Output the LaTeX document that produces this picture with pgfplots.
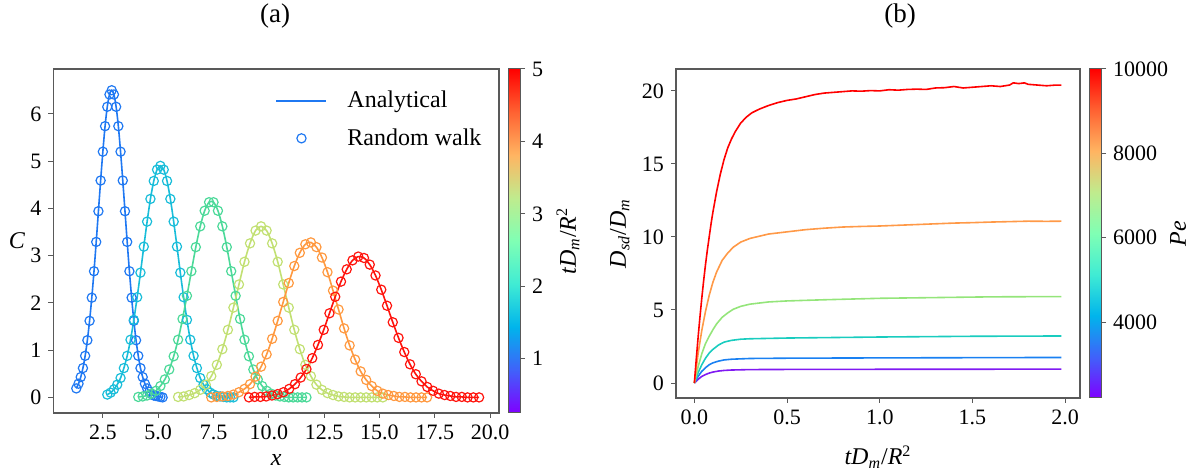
\documentclass[border=0pt]{standalone}
\usepackage{fontspec}
\setmainfont{Liberation Serif}
\usepackage{pgfplots}
\pgfplotsset{compat=1.18}
\usepackage{pgfplotstable}

\definecolor{ca}{rgb}{0.12,0.47,0.95}
\definecolor{cb}{rgb}{0.10,0.74,0.85}
\definecolor{cc}{rgb}{0.30,0.85,0.60}
\definecolor{cd}{rgb}{0.76,0.88,0.45}
\definecolor{ce}{rgb}{1.00,0.60,0.25}
\definecolor{cf}{rgb}{1.00,0.08,0.05}
\definecolor{pa}{rgb}{0.50,0.10,0.95}
\definecolor{pb}{rgb}{0.10,0.50,0.95}
\definecolor{pc}{rgb}{0.10,0.80,0.75}
\definecolor{pd}{rgb}{0.58,0.90,0.48}
\definecolor{pe}{rgb}{1.00,0.60,0.28}
\definecolor{pf}{rgb}{1.00,0.00,0.00}
\definecolor{axc}{rgb}{0.35,0.35,0.35}

\pgfplotsset{colormap={mplrainbow}{rgb=(0.5,0,1) rgb=(0.25,0.383,0.981) rgb=(0,0.707,0.924) rgb=(0.25,0.924,0.831) rgb=(0.5,1,0.707) rgb=(0.75,0.924,0.556) rgb=(1,0.707,0.383) rgb=(1,0.383,0.195) rgb=(1,0,0)}}

\pgfplotstableread{
x y
1.3 0.19
1.4 0.29
1.5 0.43
1.6 0.62
1.7 0.88
1.8 1.21
1.9 1.62
2.0 2.11
2.1 2.67
2.2 3.29
2.3 3.94
2.4 4.59
2.5 5.20
2.6 5.74
2.7 6.15
2.8 6.41
2.9 6.50
3.0 6.41
3.1 6.15
3.2 5.74
3.3 5.20
3.4 4.59
3.5 3.94
3.6 3.29
3.7 2.67
3.8 2.11
3.9 1.62
4.0 1.21
4.1 0.88
4.2 0.62
4.3 0.43
4.4 0.29
4.5 0.19
4.6 0.12
4.7 0.07
4.8 0.04
4.9 0.03
5.0 0.02
5.1 0.01
5.2 0.00
}\tA
\pgfplotstableread{
x y
2.70 0.06
2.85 0.10
3.00 0.17
3.15 0.27
3.30 0.41
3.45 0.62
3.60 0.88
3.75 1.22
3.90 1.64
4.05 2.12
4.20 2.64
4.35 3.19
4.50 3.72
4.65 4.20
4.80 4.58
4.95 4.82
5.10 4.90
5.25 4.82
5.40 4.58
5.55 4.20
5.70 3.72
5.85 3.19
6.00 2.64
6.15 2.12
6.30 1.64
6.45 1.22
6.60 0.88
6.75 0.62
6.90 0.41
7.05 0.27
7.20 0.17
7.35 0.10
7.50 0.06
7.65 0.03
7.80 0.02
7.95 0.01
8.10 0.00
8.25 0.00
8.40 0.00
}\tB
\pgfplotstableread{
x y
4.1 0.01
4.3 0.02
4.5 0.04
4.7 0.08
4.9 0.14
5.1 0.24
5.3 0.38
5.5 0.59
5.7 0.87
5.9 1.22
6.1 1.66
6.3 2.15
6.5 2.67
6.7 3.18
6.9 3.62
7.1 3.95
7.3 4.13
7.5 4.13
7.7 3.95
7.9 3.62
8.1 3.18
8.3 2.67
8.5 2.15
8.7 1.66
8.9 1.22
9.1 0.87
9.3 0.59
9.5 0.38
9.7 0.24
9.9 0.14
10.1 0.08
10.3 0.04
10.5 0.02
10.7 0.01
10.9 0.00
11.1 0.00
11.3 0.00
11.5 0.00
11.7 0.00
}\tC
\pgfplotstableread{
x y
5.90 0.01
6.15 0.02
6.40 0.05
6.65 0.09
6.90 0.16
7.15 0.27
7.40 0.45
7.65 0.69
7.90 1.02
8.15 1.43
8.40 1.90
8.65 2.39
8.90 2.87
9.15 3.26
9.40 3.53
9.65 3.62
9.90 3.53
10.15 3.26
10.40 2.87
10.65 2.39
10.90 1.90
11.15 1.43
11.40 1.02
11.65 0.69
11.90 0.45
12.15 0.27
12.40 0.16
12.65 0.09
12.90 0.05
13.15 0.02
13.40 0.01
13.65 0.00
13.90 0.00
14.15 0.00
14.40 0.00
14.65 0.00
14.90 0.00
15.15 0.00
}\tD
\pgfplotstableread{
x y
7.40 0.00
7.65 0.01
7.90 0.02
8.15 0.03
8.40 0.06
8.65 0.11
8.90 0.18
9.15 0.28
9.40 0.44
9.65 0.65
9.90 0.91
10.15 1.24
10.40 1.62
10.65 2.02
10.90 2.42
11.15 2.78
11.40 3.06
11.65 3.24
11.90 3.28
12.15 3.18
12.40 2.96
12.65 2.65
12.90 2.26
13.15 1.86
13.40 1.46
13.65 1.10
13.90 0.80
14.15 0.55
14.40 0.37
14.65 0.24
14.90 0.14
15.15 0.08
15.40 0.05
15.65 0.03
15.90 0.01
16.15 0.01
16.40 0.00
16.65 0.00
16.90 0.00
17.15 0.00
}\tE
\pgfplotstableread{
x y
9.10 0.00
9.36 0.01
9.62 0.01
9.88 0.02
10.14 0.04
10.40 0.07
10.66 0.11
10.92 0.18
11.18 0.28
11.44 0.42
11.70 0.60
11.96 0.83
12.22 1.11
12.48 1.43
12.74 1.78
13.00 2.13
13.26 2.45
13.52 2.71
13.78 2.90
14.04 2.98
14.30 2.95
14.56 2.81
14.82 2.58
15.08 2.28
15.34 1.94
15.60 1.59
15.86 1.26
16.12 0.96
16.38 0.70
16.64 0.49
16.90 0.34
17.16 0.22
17.42 0.14
17.68 0.08
17.94 0.05
18.20 0.03
18.46 0.01
18.72 0.01
18.98 0.00
19.24 0.00
19.50 0.00
}\tF

\pgfplotsset{
  myax/.style={
    scale only axis,
    axis line style={axc, line width=0.6pt},
    tick align=outside, tick pos=left,
    major tick length=2.5pt,
    every tick/.style={axc, line width=0.5pt},
    /pgf/number format/assume math mode=true,
    tick label style={font=\fontsize{11}{13}\selectfont},
    label style={font=\fontsize{12}{14}\selectfont},
  },
  mycb/.style={
    at={(parent axis.north east)}, anchor=north west, xshift=-4.0pt,
    width=6pt,
    axis line style={axc, line width=0.5pt},
    ytick pos=right, yticklabel pos=right,
    tick align=outside, major tick length=2.5pt,
    every tick/.style={axc, line width=0.5pt},
    /pgf/number format/assume math mode=true,
    /pgf/number format/1000 sep={},
    scaled y ticks=false,
    tick label style={font=\fontsize{11}{13}\selectfont},
  },
  myline/.style={line width=0.8pt},
  mymark/.style={only marks, mark=o, mark size=2.3pt, mark options={line width=0.6pt}},
}

\begin{document}
\begin{tikzpicture}
\useasboundingbox (0,0) rectangle (598.5pt,237pt);

% ---------------- panel (a) ----------------
\begin{axis}[myax,
  at={(26.75pt,30.5pt)}, anchor=south west,
  width=222.75pt, height=172pt,
  xmin=0.27, xmax=20.4, ymin=-0.33, ymax=6.95,
  xtick={2.5,5,7.5,10,12.5,15,17.5,20},
  xticklabel style={/pgf/number format/.cd, fixed, fixed zerofill, precision=1},
  ytick={0,1,2,3,4,5,6},
  xlabel={\textit{x}},
  ylabel={\textit{C}},
  xlabel style={at={(axis description cs:0.5,-0.137)}, anchor=center},
  ylabel style={at={(axis description cs:-0.082,0.5)}, anchor=center, rotate=-90},
  colorbar, colormap name=mplrainbow,
  point meta min=0.25, point meta max=5,
  colorbar style={mycb, height=172pt, ytick={1,2,3,4,5}},
  legend style={at={(0.975,0.955)}, anchor=north east, draw=none, fill=none,
    font=\fontsize{12}{14}\selectfont, row sep=5pt, inner sep=1pt},
  legend cell align=left,
]
\addlegendimage{ca, line width=1pt, legend image code/.code={\draw (0pt,0pt) -- (25pt,0pt); \path (33pt,0pt);}}
\addlegendentry{Analytical}
\addlegendimage{ca, mymark, legend image code/.code={\draw[only marks] plot coordinates {(12.5pt,0pt)}; \path (0pt,0pt) (33pt,0pt);}}
\addlegendentry{Random walk}

\addplot[ca, myline, smooth, forget plot] table {\tA};
\addplot[ca, mymark, forget plot] table {\tA};
\addplot[cb, myline, smooth, forget plot] table {\tB};
\addplot[cb, mymark, forget plot] table {\tB};
\addplot[cc, myline, smooth, forget plot] table {\tC};
\addplot[cc, mymark, forget plot] table {\tC};
\addplot[cd, myline, smooth, forget plot] table {\tD};
\addplot[cd, mymark, forget plot] table {\tD};
\addplot[ce, myline, smooth, forget plot] table {\tE};
\addplot[ce, mymark, forget plot] table {\tE};
\addplot[cf, myline, smooth, forget plot] table {\tF};
\addplot[cf, mymark, forget plot] table {\tF};

\node[anchor=south west, inner sep=1pt, font=\fontsize{11}{13}\selectfont] at (rel axis cs:0,1) {×10\textsuperscript{−1}};
\end{axis}

% ---------------- panel (b) ----------------
\begin{axis}[myax,
  at={(338pt,38pt)}, anchor=south west,
  width=202pt, height=164.5pt,
  xmin=-0.099, xmax=2.08, ymin=-1.025, ymax=21.5,
  xtick={0,0.5,1,1.5,2},
  xticklabel style={/pgf/number format/.cd, fixed, fixed zerofill, precision=1},
  ytick={0,5,10,15,20},
  xlabel={\textit{tD}\textsubscript{\textit{m}}/\textit{R}\textsuperscript{2}},
  ylabel={\textit{D}\textsubscript{\textit{sd}}/\textit{D}\textsubscript{\textit{m}}},
  xlabel style={at={(axis description cs:0.5,-0.179)}, anchor=center},
  ylabel style={at={(axis description cs:-0.139,0.5)}, anchor=center},
  colorbar, colormap name=mplrainbow,
  point meta min=2200, point meta max=10000,
  colorbar style={mycb, height=164.5pt, ytick={4000,6000,8000,10000}},
]
\addplot[pa, myline] coordinates {(0,0) (0.02,0.25) (0.04,0.45) (0.06,0.58) (0.08,0.68) (0.10,0.75) (0.13,0.82) (0.16,0.86) (0.2,0.89) (0.3,0.92) (0.5,0.93) (1.0,0.94) (1.98,0.95)};
\addplot[pb, myline] coordinates {(0,0) (0.02,0.45) (0.04,0.8) (0.06,1.05) (0.08,1.25) (0.10,1.38) (0.13,1.5) (0.16,1.58) (0.2,1.63) (0.3,1.68) (0.5,1.7) (1.0,1.72) (1.98,1.75)};
\addplot[pc, myline] coordinates {(0,0) (0.02,0.7) (0.04,1.25) (0.06,1.7) (0.08,2.05) (0.10,2.3) (0.13,2.6) (0.16,2.8) (0.2,2.92) (0.25,3.0) (0.3,3.03) (0.5,3.08) (1.0,3.15) (1.5,3.2) (1.98,3.22)};
\addplot[pd, myline] coordinates {(0,0) (0.02,1.1) (0.04,2.0) (0.06,2.7) (0.08,3.2) (0.10,3.65) (0.12,4.05) (0.15,4.5) (0.18,4.8) (0.21,5.05) (0.25,5.25) (0.3,5.4) (0.4,5.55) (0.5,5.62) (0.7,5.7) (1.0,5.8) (1.3,5.85) (1.6,5.9) (1.98,5.92)};
\addplot[pe, myline] coordinates {(0,0) (0.02,2.0) (0.04,3.6) (0.06,4.9) (0.08,6.0) (0.10,6.9) (0.12,7.6) (0.15,8.4) (0.18,8.9) (0.21,9.3) (0.25,9.65) (0.3,9.9) (0.35,10.05) (0.4,10.2) (0.5,10.35) (0.6,10.5) (0.7,10.6) (0.8,10.68) (0.9,10.72) (1.0,10.75) (1.1,10.8) (1.2,10.85) (1.3,10.9) (1.4,10.95) (1.5,10.98) (1.6,11.02) (1.7,11.05) (1.8,11.08) (1.9,11.07) (1.98,11.08)};
\addplot[pf, myline] coordinates {(0,0) (0.01,1.6) (0.02,3.1) (0.03,4.5) (0.04,5.8) (0.05,7.0) (0.06,8.1) (0.07,9.1) (0.08,10.0) (0.09,10.9) (0.10,11.7) (0.12,13.1) (0.14,14.3) (0.16,15.3) (0.18,16.1) (0.20,16.7) (0.22,17.2) (0.25,17.8) (0.28,18.2) (0.31,18.5) (0.35,18.75) (0.40,19.0) (0.45,19.2) (0.50,19.35) (0.55,19.45) (0.60,19.6) (0.65,19.75) (0.70,19.85) (0.75,19.9) (0.80,19.95) (0.85,20.0) (0.90,19.98) (0.95,20.02) (1.0,20.0) (1.05,20.08) (1.1,20.05) (1.15,20.1) (1.2,20.12) (1.25,20.1) (1.3,20.2) (1.35,20.22) (1.4,20.3) (1.45,20.2) (1.5,20.25) (1.55,20.3) (1.6,20.35) (1.65,20.3) (1.7,20.4) (1.72,20.55) (1.75,20.5) (1.78,20.55) (1.8,20.45) (1.85,20.4) (1.9,20.35) (1.95,20.4) (1.98,20.4)};
\node[anchor=south west, inner sep=1pt, font=\fontsize{11}{13}\selectfont] at (rel axis cs:0,1) {×10\textsuperscript{5}};
\end{axis}

% titles and colorbar labels
\node[font=\fontsize{13.5}{16}\selectfont] at (137.5pt,229pt) {(a)};
\node[font=\fontsize{13.5}{16}\selectfont] at (450pt,229pt) {(b)};
\node[rotate=90, font=\fontsize{12}{14}\selectfont] at (284pt,116.5pt) {\textit{tD}\textsubscript{\textit{m}}/\textit{R}\textsuperscript{2}};
\node[rotate=90, font=\fontsize{12}{14}\selectfont] at (589pt,120pt) {\textit{Pe}};
\end{tikzpicture}
\end{document}
